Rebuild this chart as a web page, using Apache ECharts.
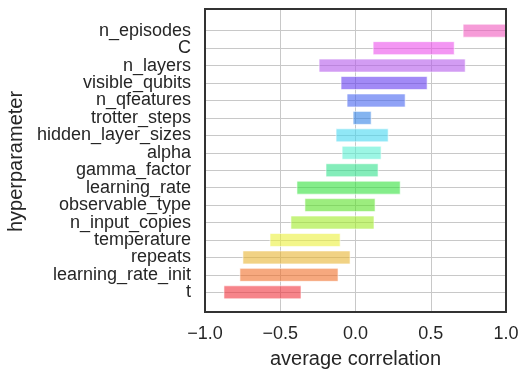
<!DOCTYPE html>
<html>
<head>
<meta charset="utf-8">
<script src="https://cdn.jsdelivr.net/npm/echarts@6/dist/echarts.min.js"></script>
<style>
  html, body { margin: 0; padding: 0; background: #fff; }
  #chart { width: 528px; height: 378px; }
</style>
</head>
<body>
<div id="chart"></div>
<script>
// categories top to bottom
var hyperparams = ['n_episodes', 'C', 'n_layers', 'visible_qubits', 'n_qfeatures',
  'trotter_steps', 'hidden_layer_sizes', 'alpha', 'gamma_factor', 'learning_rate',
  'observable_type', 'n_input_copies', 'temperature', 'repeats', 'learning_rate_init', 't'];
// range of the average correlation per hyperparameter
var lowVals = [0.715, 0.117, -0.242, -0.096, -0.056, -0.016, -0.129, -0.089, -0.196, -0.389,
  -0.336, -0.429, -0.568, -0.748, -0.768, -0.874];
var highVals = [1.0, 0.656, 0.729, 0.476, 0.330, 0.104, 0.217, 0.170, 0.150, 0.297,
  0.130, 0.123, -0.102, -0.036, -0.116, -0.362];
var xTicks = [-1, -0.5, 0, 0.5, 1];

var barColors = [
  'rgba(240,90,190,0.6)', 'rgba(235,80,235,0.6)', 'rgba(180,90,235,0.6)', 'rgba(100,60,240,0.6)',
  'rgba(70,100,240,0.6)', 'rgba(50,130,230,0.6)', 'rgba(70,215,240,0.6)', 'rgba(90,240,210,0.6)',
  'rgba(50,225,140,0.6)', 'rgba(50,225,60,0.6)', 'rgba(90,225,40,0.6)', 'rgba(160,235,40,0.6)',
  'rgba(235,240,60,0.6)', 'rgba(232,180,50,0.6)', 'rgba(240,110,40,0.6)', 'rgba(240,50,60,0.6)'
];

var rangeData = hyperparams.map(function (name, i) {
  return [lowVals[i], highVals[i], i];
});

var textColor = '#262626';
var font = 'Liberation Sans, Arial, sans-serif';
var gridColor = '#c8c8c8';

var chart = echarts.init(document.getElementById('chart'));
window.addEventListener('resize', function () {
  chart.resize();
});

var option = {
  animation: false,
  grid: [
    { left: 205, top: 9, width: 301, height: 303, show: true, outerBoundsMode: 'none',
      borderColor: '#333', borderWidth: 2, backgroundColor: 'transparent', z: 5 },
    { left: 205, top: 30.7, width: 301, height: 261.6, outerBoundsMode: 'none' }
  ],
  xAxis: [
    {
      gridIndex: 0, type: 'value', min: xTicks[0], max: xTicks[xTicks.length - 1], interval: 0.5,
      axisLine: { show: false }, axisTick: { show: false },
      splitLine: { show: true, lineStyle: { color: gridColor, width: 1 } },
      axisLabel: {
        color: textColor, fontSize: 18, fontFamily: font, margin: 13,
        formatter: function (v) { return (v < 0 ? '\u2212' : '') + Math.abs(v).toFixed(1); }
      },
      name: 'average correlation', nameLocation: 'middle', nameGap: 37,
      nameTextStyle: { color: textColor, fontSize: 20, fontFamily: font }
    },
    {
      gridIndex: 1, type: 'value', min: -1, max: 1, show: false
    }
  ],
  yAxis: [
    { gridIndex: 0, type: 'value', min: 0, max: 1, show: false },
    {
      gridIndex: 1, type: 'category', data: hyperparams, inverse: true, boundaryGap: false,
      axisLine: { show: false }, axisTick: { show: false },
      splitLine: { show: true, lineStyle: { color: gridColor, width: 1 } },
      axisLabel: { color: textColor, fontSize: 18, fontFamily: font, margin: 14, interval: 0 },
      name: 'hyperparameter', nameLocation: 'middle', nameGap: 165,
      nameTextStyle: { color: textColor, fontSize: 20, fontFamily: font }
    }
  ],
  series: [
    {
      type: 'custom',
      xAxisIndex: 1, yAxisIndex: 1,
      encode: { x: [0, 1], y: 2 },
      data: rangeData,
      renderItem: function (params, api) {
        var idx = api.value(2);
        var p0 = api.coord([api.value(0), idx]);
        var p1 = api.coord([api.value(1), idx]);
        var h = 13;
        return {
          type: 'rect',
          shape: { x: p0[0], y: p0[1] - h / 2, width: p1[0] - p0[0], height: h },
          style: { fill: barColors[idx], stroke: 'rgba(255,255,255,0.6)', lineWidth: 1 }
        };
      }
    }
  ]
};
chart.setOption(option);
</script>
</body>
</html>
